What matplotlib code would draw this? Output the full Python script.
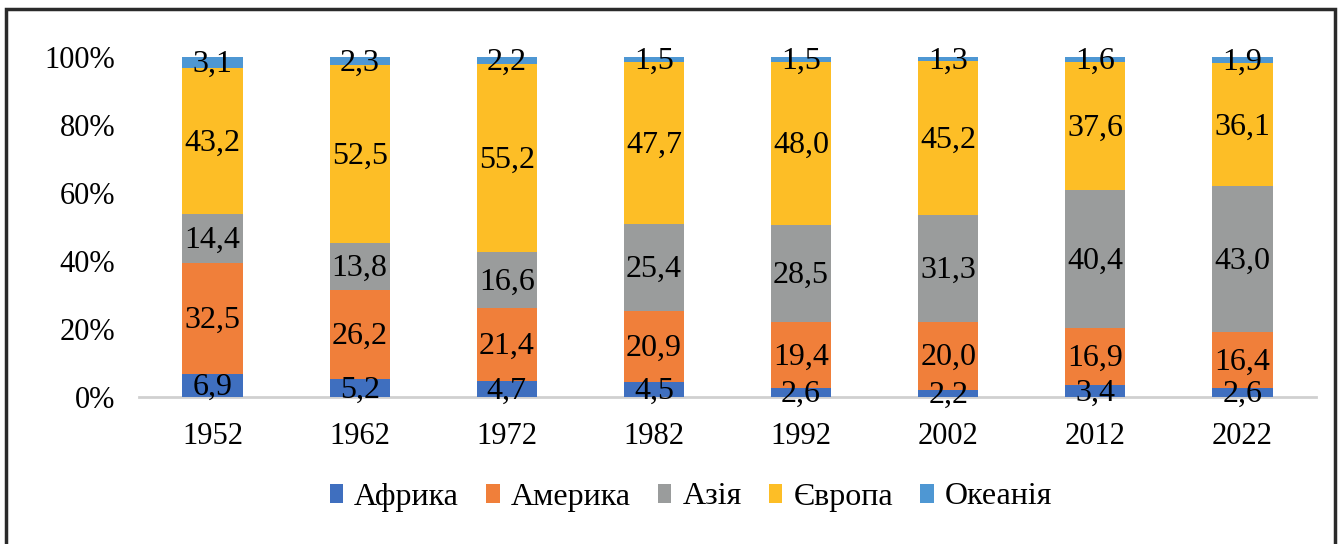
import matplotlib
matplotlib.use("Agg")
import matplotlib.pyplot as plt
from matplotlib.patches import Rectangle
import numpy as np

years = ["1952", "1962", "1972", "1982", "1992", "2002", "2012", "2022"]
africa = [6.9, 5.2, 4.7, 4.5, 2.6, 2.2, 3.4, 2.6]
america = [32.5, 26.2, 21.4, 20.9, 19.4, 20.0, 16.9, 16.4]
asia = [14.4, 13.8, 16.6, 25.4, 28.5, 31.3, 40.4, 43.0]
europe = [43.2, 52.5, 55.2, 47.7, 48.0, 45.2, 37.6, 36.1]
oceania = [3.1, 2.3, 2.2, 1.5, 1.5, 1.3, 1.6, 1.9]
series_names = ["Африка", "Америка", "Азія", "Європа", "Океанія"]
colors = ["#3F6FBF", "#F07F3A", "#9A9C9C", "#FDBE26", "#4E97D3"]

plt.rcParams['font.family'] = ['Liberation Serif', 'DejaVu Serif']

fig = plt.figure(figsize=(13.38, 5.44), dpi=100)
ax = fig.add_axes([139/1338, 1-397/544, (1316-139)/1338, (397-57)/544])

data = np.array([africa, america, asia, europe, oceania])
totals = data.sum(axis=0)
pct = data / totals * 100
x = np.arange(len(years))
bottom = np.zeros(len(years))
for i, name in enumerate(series_names):
    ax.bar(x, pct[i], 0.41, bottom=bottom, color=colors[i], label=name, zorder=2)
    for j in range(len(years)):
        ax.text(x[j], bottom[j] + pct[i][j] / 2 - 0.6, f"{data[i][j]:.1f}".replace('.', ','),
                ha='center', va='center', fontsize=23, color='black', zorder=3)
    bottom += pct[i]

ax.set_xlim(-0.5, 7.5)
ax.set_ylim(0, 100)
ax.set_yticks([0, 20, 40, 60, 80, 100])
ax.set_yticklabels([f"{v}%" for v in [0, 20, 40, 60, 80, 100]])
ax.set_xticks(x)
ax.set_xticklabels(years)
ax.tick_params(axis='both', length=0, labelsize=22)
ax.tick_params(axis='y', pad=17)
ax.tick_params(axis='x', pad=18)
for s in ['top', 'right', 'left']:
    ax.spines[s].set_visible(False)
ax.spines['bottom'].set_color('#D0D0D0')
ax.spines['bottom'].set_linewidth(2)
ax.spines['bottom'].set_zorder(1)

leg = fig.legend(loc='center', bbox_to_anchor=(691/1338, 1-497/544), ncol=5,
                 frameon=False, fontsize=23, handlelength=0.42, handleheight=0.55,
                 handletextpad=0.35, columnspacing=0.85)

fig.patches.append(Rectangle((6/1338, -0.02), (1335-6)/1338, 1.02 - 9/544,
                             transform=fig.transFigure, fill=False,
                             edgecolor='#2a2a2a', linewidth=2.5))

fig.savefig("out.png", dpi=100)
